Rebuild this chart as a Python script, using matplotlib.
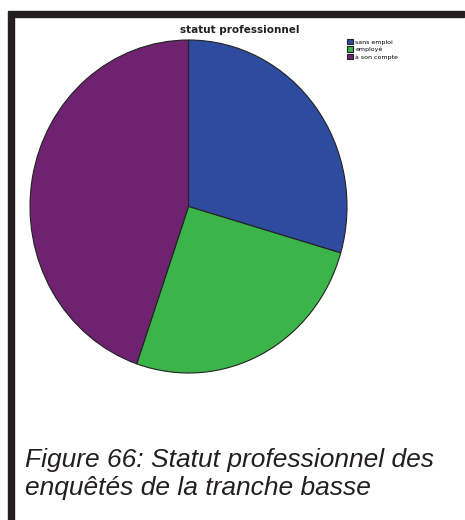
import matplotlib.pyplot as plt
from matplotlib.patches import Rectangle

labels = ['sans emploi', 'employé', 'à son compte']
shares = [29.5, 25.8, 44.7]
colors = ['#2f4b9f', '#3bb44a', '#6e2270']

W, H = 465, 520
fig = plt.figure(figsize=(W / 100, H / 100), dpi=100)
fig.set_facecolor('white')

# black frame bars (top and left)
fig.patches.append(Rectangle((8 / W, 1 - 17 / H), 456 / W, 6 / H,
                             transform=fig.transFigure, color='#231f20'))
fig.patches.append(Rectangle((8 / W, 0), 6 / W, 1 - 17 / H,
                             transform=fig.transFigure, color='#231f20'))

ax = fig.add_axes([30 / W, 1 - 373 / H, 317 / W, 333 / H])
wedges, _ = ax.pie(shares, colors=colors, startangle=90, counterclock=False,
                   wedgeprops=dict(edgecolor='#222222', linewidth=0.8))
ax.set_aspect('auto')
ax.set_xlim(-1, 1)
ax.set_ylim(-1, 1)
ax.axis('off')

fig.text(240 / W, 1 - 30 / H, 'statut professionnel', ha='center', va='center',
         fontsize=7.5, fontweight='bold', family='DejaVu Sans', color='#222222')

leg = fig.legend(wedges, labels, loc='upper left', bbox_to_anchor=(344 / W, 1 - 36 / H),
                 frameon=False, fontsize=4.5, handlelength=0.9, handleheight=0.9,
                 handletextpad=0.4, labelspacing=0.25, borderpad=0)

# caption, one line at a time
cap = dict(ha='left', va='baseline', fontsize=19, style='italic',
           family='Liberation Sans', color='#231f20')
fig.text(25 / W, 1 - 467 / H, 'Figure 66: Statut professionnel des', **cap)
fig.text(25 / W, 1 - 495 / H, 'enquêtés de la tranche basse', **cap)

fig.savefig('out.png', dpi=100)
